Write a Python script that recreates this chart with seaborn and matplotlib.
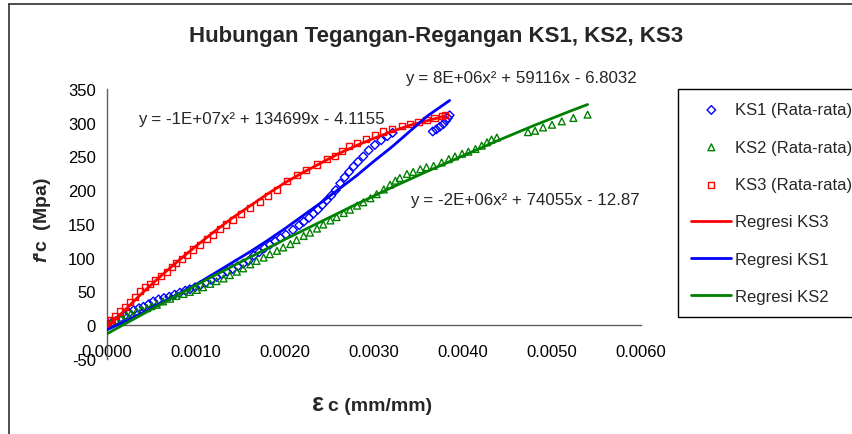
import matplotlib
matplotlib.use('Agg')
import matplotlib.pyplot as plt
from matplotlib.lines import Line2D
from matplotlib.ticker import FormatStrFormatter, MultipleLocator
import pandas as pd
import seaborn as sns

# --- data (strain mm/mm, stress MPa) ---
ks1_x = [0.00000, 0.00005, 0.00010, 0.00015, 0.00020, 0.00025, 0.00030, 0.00036, 0.00041, 0.00047,
         0.00052, 0.00058, 0.00064, 0.00070, 0.00076, 0.00082, 0.00088, 0.00093, 0.00099, 0.00105,
         0.00111, 0.00117, 0.00123, 0.00129, 0.00135, 0.00141, 0.00147, 0.00153, 0.00159, 0.00165,
         0.00171, 0.00177, 0.00183, 0.00189, 0.00195, 0.00201, 0.00209, 0.00216, 0.00221, 0.00227,
         0.00232, 0.00237, 0.00242, 0.00247, 0.00252, 0.00257, 0.00262, 0.00267, 0.00272, 0.00277,
         0.00282, 0.00288, 0.00294, 0.00301, 0.00308, 0.00315, 0.00321,
         0.00366, 0.00370, 0.00374, 0.00378, 0.00381, 0.00383, 0.00385]
ks1_y = [0, 3, 6, 10, 14, 18, 22, 25, 27, 31,
         35, 38, 40, 42, 45, 48, 51, 53, 56, 59,
         63, 67, 71, 75, 79, 83, 87, 91, 95, 103,
         108, 114, 119, 124, 129, 134, 141, 148, 153, 159,
         165, 171, 178, 185, 192, 200, 210, 219, 227, 235,
         242, 250, 259, 267, 274, 280, 285,
         287, 290, 294, 298, 303, 307, 311]

ks2_x = [0.00000, 0.00005, 0.00011, 0.00016, 0.00022, 0.00027, 0.00033, 0.00039, 0.00045, 0.00050,
         0.00056, 0.00063, 0.00071, 0.00078, 0.00086, 0.00093, 0.00101, 0.00108, 0.00116, 0.00123,
         0.00131, 0.00138, 0.00146, 0.00153, 0.00161, 0.00168, 0.00176, 0.00183, 0.00191, 0.00198,
         0.00206, 0.00213, 0.00221, 0.00228, 0.00236, 0.00243, 0.00251, 0.00258, 0.00266, 0.00273,
         0.00281, 0.00288, 0.00296, 0.00303, 0.00311, 0.00318, 0.00324, 0.00329, 0.00337, 0.00344,
         0.00352, 0.00359, 0.00367, 0.00376, 0.00384, 0.00391, 0.00399, 0.00406, 0.00414, 0.00421,
         0.00427, 0.00432, 0.00438,
         0.00473, 0.00481, 0.00490, 0.00500, 0.00511, 0.00524, 0.00540]
ks2_y = [0, 3, 7, 10, 14, 17, 20, 23, 25, 28,
         30, 35, 39, 43, 46, 49, 52, 56, 61, 65,
         69, 74, 79, 84, 90, 95, 100, 105, 110, 115,
         120, 126, 132, 137, 143, 149, 155, 160, 166, 171,
         177, 182, 188, 194, 201, 208, 214, 218, 224, 227,
         231, 234, 236, 241, 246, 250, 254, 257, 261, 266,
         271, 275, 278,
         286, 288, 293, 297, 302, 307, 312]

ks3_x = [0.00000, 0.00005, 0.00009, 0.00015, 0.00020, 0.00026, 0.00031, 0.00037, 0.00043, 0.00048,
         0.00054, 0.00061, 0.00067, 0.00073, 0.00078, 0.00084, 0.00090, 0.00097, 0.00104, 0.00112,
         0.00119, 0.00127, 0.00134, 0.00142, 0.00151, 0.00161, 0.00172, 0.00181, 0.00191, 0.00202,
         0.00213, 0.00224, 0.00236, 0.00247, 0.00256, 0.00264, 0.00272, 0.00281, 0.00291, 0.00301,
         0.00310, 0.00320, 0.00331, 0.00340, 0.00350, 0.00359, 0.00368, 0.00376, 0.00380]
ks3_y = [0, 7, 14, 20, 26, 34, 41, 51, 56, 61,
         66, 73, 78, 86, 92, 98, 104, 112, 119, 127,
         134, 142, 149, 156, 165, 173, 183, 191, 200, 214,
         222, 230, 238, 246, 251, 258, 265, 270, 276, 282,
         287, 290, 295, 298, 301, 304, 307, 310, 312]

# regression curves as drawn in the chart
reg1_x = [0.0000, 0.0002, 0.0004, 0.0006, 0.0008, 0.0010, 0.0012, 0.0014, 0.0016, 0.0018,
          0.0020, 0.0022, 0.0024, 0.0026, 0.0028, 0.0030, 0.0032, 0.0034, 0.0036, 0.00385]
reg1_y = [-7, 5, 18, 32, 46, 60, 76, 92, 108, 125,
          143, 162, 181, 201, 221, 243, 264, 287, 310, 333]
reg2_x = [0.0000, 0.0004, 0.0008, 0.0012, 0.0016, 0.0020, 0.0024, 0.0028, 0.0032, 0.0036,
          0.0040, 0.0044, 0.0048, 0.0052, 0.0054]
reg2_y = [-13, 16, 45, 73, 100, 127, 153, 179, 204, 228,
          251, 274, 296, 317, 327]
reg3_x = [0.0000, 0.0002, 0.0004, 0.0006, 0.0008, 0.0010, 0.0012, 0.0014, 0.0016, 0.0018,
          0.0020, 0.0022, 0.0024, 0.0026, 0.0028, 0.0030, 0.0032, 0.0034, 0.0036, 0.0038]
reg3_y = [-4, 22, 48, 72, 95, 117, 138, 158, 176, 194,
          211, 226, 240, 254, 266, 277, 287, 296, 303, 310]

eq1 = 'y = 8E+06x² + 59116x - 6.8032'
eq2 = 'y = -2E+06x² + 74055x - 12.87'
eq3 = 'y = -1E+07x² + 134699x - 4.1155'

RED, BLUE, GREEN = '#FF0000', '#0000FF', '#008000'

sns.set_style('white')
plt.rcParams['font.family'] = ['Liberation Sans', 'DejaVu Sans']
plt.rcParams['axes.unicode_minus'] = False
plt.rcParams['mathtext.fontset'] = 'custom'
plt.rcParams['mathtext.it'] = 'Liberation Sans:italic:bold'
plt.rcParams['mathtext.rm'] = 'Liberation Sans:bold'

W, H = 853, 435
fig = plt.figure(figsize=(W / 100, H / 100), dpi=100)
fig.patch.set_facecolor('white')

def fx(px):
    return px / W

def fy(py):
    return 1 - py / H

ax = fig.add_axes([fx(107), fy(359.7), (641 - 107) / W, (359.7 - 90) / H])

ms = 24
sns.scatterplot(x=ks1_x, y=ks1_y, ax=ax, marker='D', s=ms * 0.8, facecolor='none',
                edgecolor=BLUE, linewidth=1.0, label='KS1 (Rata-rata)', zorder=3)
sns.scatterplot(x=ks2_x, y=ks2_y, ax=ax, marker='^', s=ms, facecolor='none',
                edgecolor=GREEN, linewidth=1.0, label='KS2 (Rata-rata)', zorder=3)
sns.scatterplot(x=ks3_x, y=ks3_y, ax=ax, marker='s', s=ms * 0.8, facecolor='none',
                edgecolor=RED, linewidth=1.0, label='KS3 (Rata-rata)', zorder=3)

sns.lineplot(x=reg3_x, y=reg3_y, ax=ax, color=RED, linewidth=2.0, sort=False,
             estimator=None, label='Regresi KS3', zorder=4)
sns.lineplot(x=reg1_x, y=reg1_y, ax=ax, color=BLUE, linewidth=2.0, sort=False,
             estimator=None, label='Regresi KS1', zorder=4)
sns.lineplot(x=reg2_x, y=reg2_y, ax=ax, color=GREEN, linewidth=2.0, sort=False,
             estimator=None, label='Regresi KS2', zorder=4)

ax.set_xlim(0, 0.006)
ax.set_ylim(-50, 350)
ax.xaxis.set_major_locator(MultipleLocator(0.001))
ax.xaxis.set_major_formatter(FormatStrFormatter('%.4f'))
ax.yaxis.set_major_locator(MultipleLocator(50))
ax.set_facecolor('white')

for s in ['top', 'right']:
    ax.spines[s].set_visible(False)
ax.spines['bottom'].set_position(('data', 0))
for s in ['left', 'bottom']:
    ax.spines[s].set_color('#606060')
    ax.spines[s].set_linewidth(1.0)
ax.tick_params(axis='both', direction='out', length=4, width=1, color='#606060',
               labelsize=12, labelcolor='black')
ax.tick_params(axis='x', pad=10)
ax.tick_params(axis='y', pad=4)
ax.grid(False)

ax.set_xlabel('')
ax.set_ylabel(r"$f$'c  (Mpa)", fontsize=14, fontweight='bold')
ax.yaxis.set_label_coords(-0.101, 0.518)

fig.text(fx(312), fy(411), 'ε', fontsize=18, fontweight='bold', ha='left', va='baseline')
fig.text(fx(328), fy(411), 'c (mm/mm)', fontsize=14, fontweight='bold', ha='left', va='baseline')

fig.text(fx(436), fy(42), 'Hubungan Tegangan-Regangan KS1, KS2, KS3', fontsize=16,
         fontweight='bold', ha='center', va='baseline')

fig.text(fx(405), fy(83), eq1, fontsize=12.2, ha='left', va='baseline')
fig.text(fx(410), fy(205), eq2, fontsize=12.2, ha='left', va='baseline')
fig.text(fx(138), fy(124), eq3, fontsize=12.2, ha='left', va='baseline')

handles, labels = ax.get_legend_handles_labels()
leg = ax.legend(handles, labels, loc='upper left', bbox_to_anchor=(fx(678), fy(90)),
                bbox_transform=fig.transFigure, borderaxespad=0, fontsize=12,
                frameon=True, fancybox=False, shadow=False, framealpha=1,
                edgecolor='black', labelspacing=1.34, handlelength=2.4,
                handletextpad=0.2, borderpad=0.8)
leg.get_frame().set_linewidth(1.0)

# outer chart border (left and top edges visible)
fig.add_artist(Line2D([fx(9), fx(9)], [0, fy(5)], color='#303030', linewidth=1.2))
fig.add_artist(Line2D([fx(9), 1], [fy(5), fy(5)], color='#303030', linewidth=1.2))

fig.savefig('out.png', dpi=100, facecolor='white')
plt.close(fig)
